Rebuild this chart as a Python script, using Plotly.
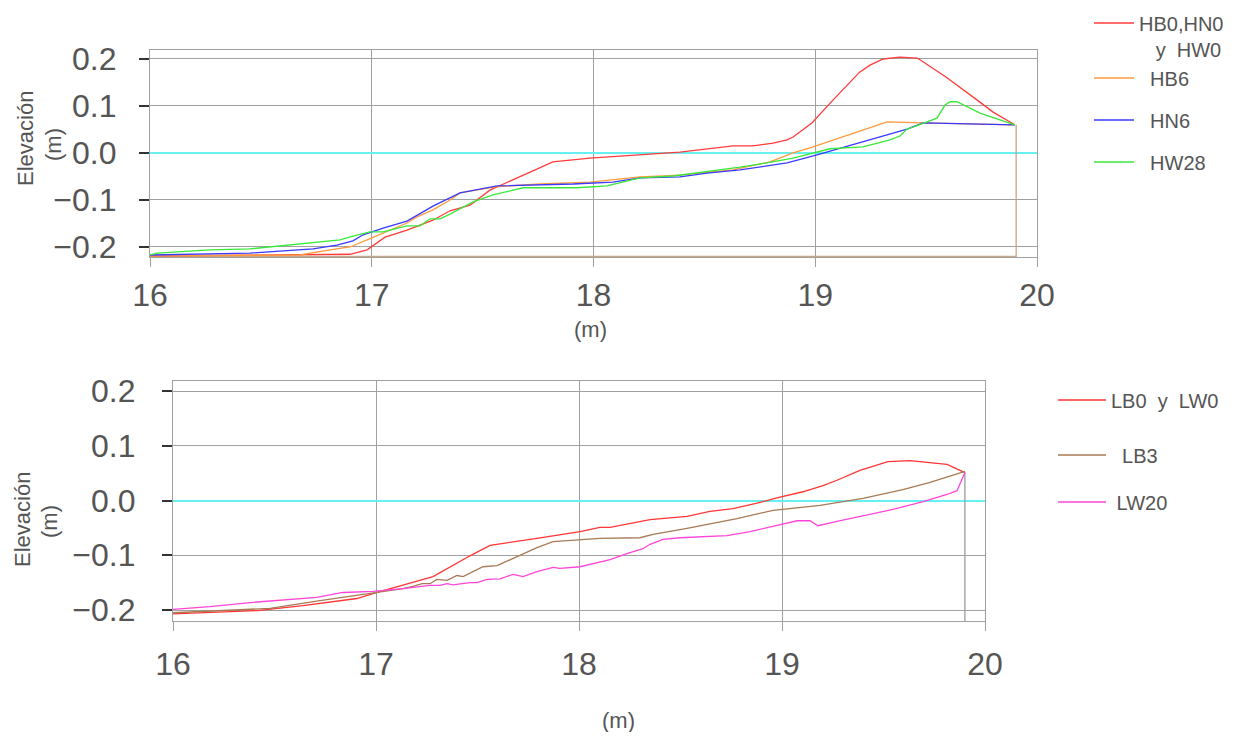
import plotly.graph_objects as go

# ---------------- data: top panel ----------------
hb0_x = [16.0, 16.902, 16.979, 17.06, 17.159, 17.276, 17.353, 17.443, 17.533, 17.669, 17.817, 17.984,
         18.21, 18.39, 18.629, 18.719, 18.81, 18.873, 18.90, 18.985, 19.067, 19.20, 19.247, 19.306,
         19.382, 19.459, 19.486, 19.594, 19.729, 19.802, 19.90]
hb0_y = [-0.219, -0.2155, -0.206, -0.179, -0.164, -0.143, -0.123, -0.111, -0.079, -0.051, -0.019, -0.011,
         -0.004, 0.002, 0.015, 0.015, 0.021, 0.028, 0.034, 0.064, 0.106, 0.172, 0.187, 0.200,
         0.204, 0.202, 0.194, 0.160, 0.113, 0.087, 0.060]

hb6_x = [16.0, 16.676, 16.812, 16.902, 16.979, 17.051, 17.159, 17.204, 17.276, 17.353, 17.398, 17.556,
         17.759, 17.984, 18.21, 18.39, 18.629, 18.796, 18.90, 18.99, 19.324, 19.486, 19.90]
hb6_y = [-0.219, -0.217, -0.206, -0.200, -0.185, -0.170, -0.149, -0.136, -0.121, -0.100, -0.085, -0.072,
         -0.066, -0.062, -0.051, -0.047, -0.036, -0.019, 0.000, 0.013, 0.066, 0.064, 0.060]

hn6_x = [16.0, 16.451, 16.735, 16.843, 16.915, 16.961, 17.051, 17.159, 17.276, 17.353, 17.398, 17.565,
         17.759, 17.908, 18.088, 18.21, 18.39, 18.512, 18.661, 18.873, 19.008, 19.414, 19.486, 19.90]
hn6_y = [-0.217, -0.213, -0.204, -0.196, -0.187, -0.174, -0.160, -0.145, -0.113, -0.096, -0.085, -0.070,
         -0.068, -0.066, -0.062, -0.053, -0.051, -0.043, -0.036, -0.021, -0.004, 0.051, 0.064, 0.060]

hw28_x = [16.0, 16.032, 16.104, 16.271, 16.451, 16.631, 16.753, 16.857, 16.915, 16.992, 17.051, 17.159,
          17.218, 17.263, 17.308, 17.353, 17.457, 17.547, 17.682, 17.804, 17.926, 18.061, 18.21, 18.359,
          18.512, 18.661, 18.782, 18.90, 19.067, 19.215, 19.337, 19.382, 19.414, 19.441, 19.549, 19.585,
          19.608, 19.639, 19.743, 19.90]
hw28_y = [-0.217, -0.213, -0.211, -0.206, -0.204, -0.196, -0.189, -0.185, -0.177, -0.168, -0.168, -0.155,
          -0.155, -0.140, -0.140, -0.130, -0.104, -0.089, -0.074, -0.074, -0.074, -0.070, -0.053, -0.049,
          -0.040, -0.030, -0.021, -0.011, 0.009, 0.013, 0.028, 0.036, 0.051, 0.055, 0.074, 0.102,
          0.109, 0.109, 0.085, 0.060]

top_close_x = [19.906, 19.906, 16.0]
top_close_y = [0.060, -0.220, -0.220]

# ---------------- data: bottom panel ----------------
lb0_x = [16.0, 16.414, 16.640, 16.906, 17.005, 17.133, 17.281, 17.463, 17.562, 17.793, 18.005, 18.103,
         18.153, 18.35, 18.532, 18.645, 18.759, 18.877, 18.975, 19.103, 19.202, 19.271, 19.384, 19.522,
         19.631, 19.813, 19.901]
lb0_y = [-0.207, -0.201, -0.192, -0.179, -0.168, -0.155, -0.139, -0.101, -0.082, -0.069, -0.057, -0.049,
         -0.049, -0.035, -0.029, -0.020, -0.015, -0.005, 0.005, 0.016, 0.027, 0.037, 0.055, 0.071,
         0.073, 0.066, 0.051]

lb3_x = [16.0, 16.232, 16.478, 16.724, 16.970, 17.133, 17.182, 17.227, 17.266, 17.30, 17.35, 17.399,
         17.429, 17.527, 17.596, 17.695, 17.793, 17.872, 18.005, 18.103, 18.30, 18.365, 18.532, 18.778,
         18.956, 19.187, 19.399, 19.596, 19.729, 19.901]
lb3_y = [-0.205, -0.201, -0.197, -0.183, -0.170, -0.161, -0.157, -0.152, -0.152, -0.144, -0.146, -0.137,
         -0.139, -0.121, -0.119, -0.102, -0.086, -0.075, -0.071, -0.069, -0.068, -0.062, -0.051, -0.033,
         -0.018, -0.009, 0.004, 0.020, 0.033, 0.053]

lw20_x = [16.0, 16.182, 16.394, 16.709, 16.837, 16.985, 17.133, 17.266, 17.315, 17.35, 17.379, 17.463,
          17.498, 17.547, 17.611, 17.675, 17.724, 17.793, 17.872, 17.906, 18.005, 18.153, 18.236, 18.315,
          18.35, 18.414, 18.498, 18.729, 18.842, 18.941, 19.074, 19.138, 19.177, 19.271, 19.547, 19.695,
          19.813, 19.862, 19.901]
lw20_y = [-0.199, -0.194, -0.186, -0.177, -0.168, -0.166, -0.161, -0.155, -0.155, -0.152, -0.154, -0.150,
          -0.150, -0.144, -0.143, -0.135, -0.139, -0.130, -0.122, -0.124, -0.121, -0.108, -0.097, -0.088,
          -0.080, -0.071, -0.068, -0.064, -0.057, -0.048, -0.037, -0.037, -0.046, -0.038, -0.016, -0.002,
          0.011, 0.018, 0.051]

bot_close_x = [19.901, 19.901]
bot_close_y = [0.051, -0.225]

x_ticks = [16, 17, 18, 19, 20]
y_ticks = [-0.2, -0.1, 0.0, 0.1, 0.2]
y_ticktext = ["\u22120.2", "\u22120.1", "0.0", "0.1", "0.2"]

# ---------------- figure ----------------
OFF = 8                      # page body margin
W, H = 1242 - 2 * OFF, 740 - 2 * OFF
FONT = "Liberation Sans"
GRID = "#a0a0a0"
TXT = "#555555"


def fx(px):
    return (px - OFF) / W


def fy(py):
    return 1 - (py - OFF) / H


fig = go.Figure()


def add(x, y, name, color, xa, ya, legend, show=True, width=1.3):
    fig.add_trace(go.Scatter(x=x, y=y, mode="lines", name=name, xaxis=xa, yaxis=ya,
                             line=dict(color=color, width=width), showlegend=show,
                             legend=legend, legendgroup=name))


add(top_close_x, top_close_y, "close1", "#c9a687", "x", "y", "legend", show=False)
add(hb0_x, hb0_y, "HB0,HN0<br>   y  HW0", "#ff3b3b", "x", "y", "legend")
add(hb6_x, hb6_y, "  HB6", "#ff9a3c", "x", "y", "legend3")
add(hn6_x, hn6_y, "  HN6", "#3a3aff", "x", "y", "legend4")
add(hw28_x, hw28_y, "  HW28", "#3ae83a", "x", "y", "legend5")

add(bot_close_x, bot_close_y, "close2", "#9a9a9a", "x2", "y2", "legend2", show=False)
add(lb0_x, lb0_y, "LB0  y  LW0", "#ff3535", "x2", "y2", "legend2")
add(lb3_x, lb3_y, "  LB3", "#a87a55", "x2", "y2", "legend6")
add(lw20_x, lw20_y, " LW20", "#ff45d8", "x2", "y2", "legend7")


def xaxis(dom, standoff, anchor):
    return dict(domain=dom, range=[16, 20], tickvals=x_ticks, ticktext=[str(v) for v in x_ticks],
                showgrid=True, gridcolor=GRID, gridwidth=1.3, showline=True, linecolor=GRID,
                linewidth=1.3, mirror=True, ticks="outside", ticklen=9, tickcolor=GRID, tickwidth=1.3,
                zeroline=False, tickfont=dict(family=FONT, size=32, color=TXT),
                ticklabelstandoff=standoff, automargin=False, anchor=anchor)


def yaxis(dom, rng, standoff, anchor):
    return dict(domain=dom, range=rng, tickvals=y_ticks, ticktext=y_ticktext,
                showgrid=True, gridcolor=GRID, gridwidth=1.3, showline=True, linecolor=GRID,
                linewidth=1.3, mirror=True, ticks="outside", ticklen=10, tickcolor="#333333", tickwidth=1.5,
                zeroline=True, zerolinecolor="#66f0f0", zerolinewidth=2,
                tickfont=dict(family=FONT, size=32, color=TXT), ticklabelstandoff=standoff,
                automargin=False, anchor=anchor)


def leg(px, py, width=40):
    return dict(x=fx(px), y=fy(py), xanchor="left", yanchor="middle", bgcolor="rgba(0,0,0,0)",
                font=dict(family=FONT, size=20, color=TXT), valign="top", itemwidth=width,
                borderwidth=0)


fig.update_layout(
    width=W, height=H, margin=dict(l=0, r=0, t=0, b=0, autoexpand=False),
    paper_bgcolor="white", plot_bgcolor="white",
    xaxis=xaxis([fx(150), fx(1037)], 0, "y"),
    yaxis=yaxis([fy(257), fy(50)], [-0.2213, 0.2191], 16, "x"),
    xaxis2=xaxis([fx(173), fx(985)], 5, "y2"),
    yaxis2=yaxis([fy(621), fy(381)], [-0.2201, 0.2183], 20, "x2"),
    legend=leg(1089, 36),
    legend3=leg(1089, 78),
    legend4=leg(1089, 120),
    legend5=leg(1089, 162),
    legend2=leg(1053, 400, 48),
    legend6=leg(1053, 455, 48),
    legend7=leg(1053, 502, 48),
    showlegend=True,
)


def ann(text, px, py, angle=0, size=22):
    fig.add_annotation(text=text, x=fx(px), y=fy(py), xref="paper", yref="paper",
                       showarrow=False, textangle=angle, xanchor="center", yanchor="middle",
                       font=dict(family=FONT, size=size, color=TXT))


ann("Elevación", 25, 139, -90)
ann("(m)", 53, 145, -90)
ann("(m)", 590, 330)
ann("Elevación", 22, 520, -90)
ann("(m)", 49, 522, -90)
ann("(m)", 618, 720)

fig.write_html("out.html")
